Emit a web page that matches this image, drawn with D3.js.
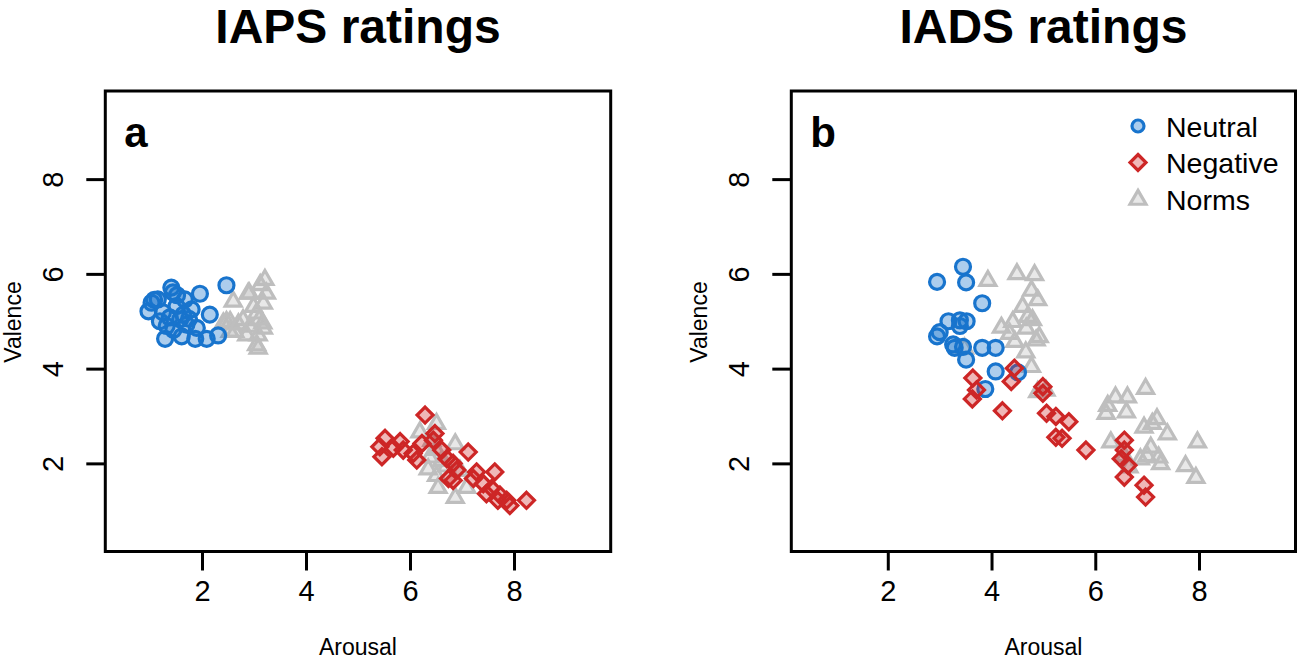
<!DOCTYPE html>
<html><head><meta charset="utf-8">
<script src="https://cdn.jsdelivr.net/npm/d3@7"></script>
<style>html,body{margin:0;padding:0;background:#fff;}svg{display:block;font-family:"Liberation Sans",Arial,Helvetica,sans-serif;}</style>
</head><body>
<svg id="chart" width="1297" height="661"></svg>
<script>
// ---------------- data ----------------
const panelTitles = ["IAPS ratings", "IADS ratings"];
const panelLetters = ["a", "b"];
const axisTicks = [2, 4, 6, 8];
const axisDomain = [0.14, 9.86];
const seriesNames = ["Neutral", "Negative", "Norms"];

// Panel a (IAPS): [arousal, valence]
const iapsNeutral = [
  [1.41,5.71],[1.96,5.58],[2.47,5.76],[1.08,5.45],[1.44,5.61],[1.67,5.46],[2.15,5.14],
  [0.97,5.21],[1.03,5.39],[1.25,5.19],[1.29,4.63],[1.61,4.68],[1.87,4.63],[2.09,4.63],
  [2.31,4.70],[1.90,4.86],[1.45,4.82],[1.70,4.93],[1.58,5.04],[1.32,4.90],[1.80,5.25],
  [1.51,5.32],[1.64,5.14],[1.38,5.08],[1.19,5.00],[1.15,5.46],[1.52,5.55],[1.75,5.05]
];
const iapsNegative = [
  [6.29,3.02],[6.48,2.63],[5.52,2.53],[5.81,2.46],[5.42,2.35],[5.68,2.32],[5.87,2.28],
  [5.46,2.14],[6.06,2.21],[6.23,2.42],[6.13,2.07],[6.61,2.28],[6.45,2.49],[6.71,2.10],
  [6.83,2.00],[7.12,2.24],[6.90,1.86],[6.74,1.68],[6.83,1.64],[7.28,1.82],[7.63,1.82],
  [7.22,1.68],[7.41,1.57],[7.57,1.47],[7.73,1.33],[7.86,1.22],[7.92,1.11],[8.24,1.22],
  [7.69,1.22],[7.47,1.36]
];
const iapsNorms = [
  [3.21,5.89],[3.12,5.78],[2.91,5.60],[3.24,5.60],[2.60,5.43],[3.18,5.39],[2.99,5.32],
  [3.05,5.18],[2.54,5.00],[2.41,4.97],[2.79,5.04],[2.92,4.90],[3.18,4.86],[2.63,4.79],
  [2.86,4.72],[3.08,4.72],[3.05,4.51],[3.08,4.44],[3.17,4.97],[2.89,5.60],[2.47,5.00],
  [2.54,4.79],[3.10,5.05],[2.70,4.95],
  [6.19,2.67],[6.51,2.85],[6.42,2.49],[6.87,2.42],[6.35,1.89],[6.51,1.75],[6.54,1.50],
  [6.87,1.29],[7.09,1.50],[6.96,1.86],[6.61,2.07],[6.38,2.14],[6.50,2.30],[6.70,1.95]
];

// Panel b (IADS): [arousal, valence]
const iadsNeutral = [
  [3.45,6.15],[2.95,5.83],[3.51,5.82],[3.82,5.38],[3.17,5.00],[3.39,5.02],[3.52,5.00],
  [3.39,4.90],[3.00,4.77],[2.95,4.68],[3.26,4.51],[3.29,4.44],[3.45,4.46],[3.51,4.19],
  [3.82,4.44],[4.08,4.44],[4.08,3.94],[4.51,3.92],[3.88,3.57]
];
const iadsNegative = [
  [3.64,3.80],[4.44,4.01],[4.38,3.73],[3.71,3.55],[3.63,3.36],[4.21,3.11],[4.99,3.62],
  [4.99,3.48],[5.06,3.06],[5.24,2.99],[5.49,2.88],[5.24,2.55],[5.36,2.53],[5.82,2.28],
  [6.56,2.49],[6.56,2.28],[6.63,1.96],[6.56,1.71],[6.94,1.54],[6.97,1.29],[6.50,2.10]
];
const iadsNorms = [
  [3.93,5.87],[4.49,6.01],[4.83,5.99],[4.77,5.66],[4.89,5.46],[4.60,5.32],[4.70,5.11],
  [4.79,5.04],[4.19,4.88],[4.41,5.00],[4.35,4.75],[4.67,4.86],[4.45,4.58],[4.92,4.68],
  [4.86,4.61],[4.66,4.36],[4.77,4.05],[3.48,4.44],[5.05,3.55],[4.89,3.52],
  [6.97,3.59],[6.39,3.41],[6.62,3.41],[6.24,3.23],[6.21,3.06],[6.60,3.09],[6.94,2.77],
  [7.19,2.95],[7.10,2.85],[7.39,2.63],[6.30,2.46],[7.07,2.35],[7.00,2.17],[7.22,2.14],
  [6.87,2.10],[7.26,2.00],[7.97,2.46],[7.74,1.96],[7.94,1.71],[6.56,2.17],[6.65,1.93]
];

// ---------------- styles ----------------
const styles = {
  Neutral:  {stroke:"#1874CD", fill:"rgba(24,116,205,0.36)", shape:"circle"},
  Negative: {stroke:"#CD2626", fill:"rgba(205,38,38,0.33)", shape:"diamond"},
  Norms:    {stroke:"#BEBEBE", fill:"rgba(190,190,190,0.35)", shape:"triangle"}
};

const svg = d3.select("#chart");
const font = '"Liberation Sans",Arial,Helvetica,sans-serif';

function symbolPath(shape) {
  if (shape === "diamond") {
    const h = 8;
    return `M0,${-h}L${h},0L0,${h}L${-h},0Z`;
  }
  const a = 16, hgt = a * Math.sqrt(3) / 2;
  return `M0,${-hgt*0.62}L${a/2},${hgt*0.38}L${-a/2},${hgt*0.38}Z`;
}

function drawMark(g, x, y, name, r) {
  const st = styles[name];
  if (st.shape === "circle") {
    g.append("circle").attr("cx", x).attr("cy", y).attr("r", r || 7.5)
      .attr("fill", st.fill).attr("stroke", st.stroke).attr("stroke-width", 3.2);
  } else {
    g.append("path").attr("d", symbolPath(st.shape))
      .attr("transform", `translate(${x},${y})`)
      .attr("fill", st.fill).attr("stroke", st.stroke).attr("stroke-width", 3.2)
      .attr("stroke-linejoin", "miter");
  }
}

function drawPanel(opts) {
  const {left, right, top, bottom, title, letter, neutral, negative, norms, legend, shift} = opts;
  const x = d3.scaleLinear().domain(axisDomain).range([left, right]);
  const y = d3.scaleLinear().domain(axisDomain).range([bottom, top]);
  const g = svg.append("g");
  const cx = (left + right) / 2;

  g.append("text").attr("x", cx).attr("y", 43).attr("text-anchor", "middle")
    .attr("font-size", 48).attr("font-weight", "bold").attr("font-family", font).text(title);

  // x axis
  const xAxis = d3.axisBottom(x).tickValues(axisTicks).tickSize(19).tickPadding(10).tickFormat(d3.format("d"));
  const gx = g.append("g").attr("transform", `translate(0,${bottom})`).call(xAxis);
  gx.select(".domain").remove();
  gx.selectAll("line").attr("stroke", "#000").attr("stroke-width", 3);
  gx.selectAll("text").attr("font-size", 29).attr("font-family", font).attr("fill", "#000");

  // y axis (labels rotated, parallel to the axis)
  const yAxis = d3.axisLeft(y).tickValues(axisTicks).tickSize(19).tickFormat(d3.format("d"));
  const gy = g.append("g").attr("transform", `translate(${left},0)`).call(yAxis);
  gy.select(".domain").remove();
  gy.selectAll(".tick line").attr("stroke", "#000").attr("stroke-width", 3);
  gy.selectAll(".tick text").attr("font-size", 29).attr("font-family", font).attr("fill", "#000")
    .attr("x", 0).attr("y", 0).attr("dy", 0).attr("text-anchor", "middle")
    .attr("transform", `translate(${(63 + shift) - left},0) rotate(-90)`);

  // axis titles
  g.append("text").attr("x", cx).attr("y", 655).attr("text-anchor", "middle")
    .attr("font-size", 23).attr("font-family", font).text("Arousal");
  g.append("text").attr("transform", `translate(${21 + shift},322) rotate(-90)`)
    .attr("text-anchor", "middle").attr("font-size", 23).attr("font-family", font).text("Valence");

  // points
  const pts = g.append("g");
  norms.forEach(d => drawMark(pts, x(d[0]), y(d[1]), "Norms"));
  neutral.forEach(d => drawMark(pts, x(d[0]), y(d[1]), "Neutral"));
  negative.forEach(d => drawMark(pts, x(d[0]), y(d[1]), "Negative"));

  // box
  g.append("rect").attr("x", left).attr("y", top).attr("width", right - left).attr("height", bottom - top)
    .attr("fill", "none").attr("stroke", "#000").attr("stroke-width", 3);

  // panel letter
  g.append("text").attr("x", left + 19).attr("y", 147).attr("font-size", 42)
    .attr("font-weight", "bold").attr("font-family", font).text(letter);

  if (legend) {
    seriesNames.forEach((name, i) => {
      const ly = 126 + i * 36.5;
      drawMark(g, 1138, ly, name, 6);
      g.append("text").attr("x", 1166).attr("y", ly + 10.5).attr("font-size", 28.5)
        .attr("font-family", font).text(name);
    });
  }
}

drawPanel({left:105.3, right:610.7, top:91, bottom:551.5, title:panelTitles[0], letter:panelLetters[0],
  neutral:iapsNeutral, negative:iapsNegative, norms:iapsNorms, legend:false, shift:0});
drawPanel({left:791.3, right:1295.5, top:91, bottom:551.5, title:panelTitles[1], letter:panelLetters[1],
  neutral:iadsNeutral, negative:iadsNegative, norms:iadsNorms, legend:true, shift:686});
</script>
</body></html>
